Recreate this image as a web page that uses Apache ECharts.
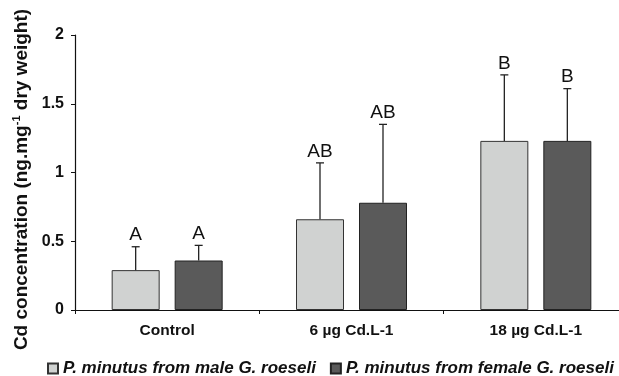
<!DOCTYPE html>
<html>
<head>
<meta charset="utf-8">
<script src="https://cdn.jsdelivr.net/npm/echarts@6/dist/echarts.min.js"></script>
<style>
  html, body { margin: 0; padding: 0; background: #fff; }
  #chart { width: 619px; height: 376px; }
</style>
</head>
<body>
<div id="chart"></div>
<script>
const categories = ['Control', '6 µg Cd.L-1', '18 µg Cd.L-1'];
const maleMean = [0.29, 0.66, 1.23];
const maleSD = [0.17, 0.41, 0.48];
const maleLetters = ['A', 'AB', 'B'];
const femaleMean = [0.36, 0.78, 1.23];
const femaleSD = [0.11, 0.57, 0.38];
const femaleLetters = ['A', 'AB', 'B'];
const yTicks = [0, 0.5, 1, 1.5, 2];

const maleName = 'P. minutus from male G. roeseli';
const femaleName = 'P. minutus from female G. roeseli';

const FONT = 'Arial, "Liberation Sans", sans-serif';
const barWidth = 48;
const barGapPx = 15;
const shift = (barWidth + barGapPx) / 2;

function errorSeries(means, sds, letters, offset) {
  return {
    type: 'custom',
    silent: true,
    z: 5,
    data: means.map((m, i) => [i, m, m + sds[i], letters[i]]),
    renderItem: (params, api) => {
      const base = api.coord([api.value(0), api.value(1)]);
      const top = api.coord([api.value(0), api.value(2)]);
      const x = base[0] + offset;
      return {
        type: 'group',
        children: [
          { type: 'line', shape: { x1: x, y1: base[1], x2: x, y2: top[1] },
            style: { stroke: '#222', lineWidth: 1.3 } },
          { type: 'line', shape: { x1: x - 4, y1: top[1], x2: x + 4, y2: top[1] },
            style: { stroke: '#222', lineWidth: 1.3 } },
          { type: 'text', x: x, y: top[1] - 2,
            style: { text: api.value(3), fill: '#111', font: '19px ' + FONT,
              align: 'center', verticalAlign: 'bottom' } }
        ]
      };
    }
  };
}

const chart = echarts.init(document.getElementById('chart'));
chart.setOption({
  animation: false,
  grid: { left: 75, width: 553, top: 35, height: 275, outerBoundsMode: 'none' },
  legend: {
    top: 355,
    left: 42,
    itemWidth: 10,
    itemHeight: 10,
    itemGap: 14,
    icon: 'rect',
    textStyle: { fontFamily: FONT, fontSize: 17, fontStyle: 'italic', fontWeight: 'bold', color: '#111' },
    data: [maleName, femaleName]
  },
  xAxis: {
    type: 'category',
    data: categories,
    axisLine: { lineStyle: { color: '#111', width: 1.2 } },
    axisTick: { show: true, length: 4, lineStyle: { color: '#111' } },
    axisLabel: { color: '#111', fontWeight: 'bold', fontSize: 15.5, margin: 13, fontFamily: FONT }
  },
  yAxis: {
    type: 'value',
    min: 0,
    max: 2,
    interval: 0.5,
    name: '{a|Cd concentration (ng.mg}{s|-1}{a| dry weight)}',
    nameLocation: 'middle',
    nameGap: 40,
    nameRotate: 90,
    nameTextStyle: {
      padding: [0, 14, 0, 0],
      rich: {
        a: { fontFamily: FONT, fontSize: 19, fontWeight: 'bold', color: '#111' },
        s: { fontFamily: FONT, fontSize: 11, fontWeight: 'bold', color: '#111',
          verticalAlign: 'top', padding: [0, 0, 9, 0] }
      }
    },
    axisLine: { show: true, lineStyle: { color: '#111', width: 1.2 } },
    axisTick: { show: true, length: 4, lineStyle: { color: '#111' } },
    splitLine: { show: false },
    axisLabel: { color: '#111', fontWeight: 'bold', fontSize: 16, margin: 11, fontFamily: FONT,
      formatter: v => yTicks.includes(v) ? String(v) : '' }
  },
  series: [
    { name: maleName, type: 'bar', data: maleMean, barWidth: barWidth, barGap: (barGapPx / barWidth * 100) + '%',
      itemStyle: { color: '#d0d2d1', borderColor: '#333', borderWidth: 1 } },
    { name: femaleName, type: 'bar', data: femaleMean, barWidth: barWidth,
      itemStyle: { color: '#5a5a5a', borderColor: '#222', borderWidth: 1 } },
    errorSeries(maleMean, maleSD, maleLetters, -shift),
    errorSeries(femaleMean, femaleSD, femaleLetters, shift)
  ]
});
</script>
</body>
</html>
